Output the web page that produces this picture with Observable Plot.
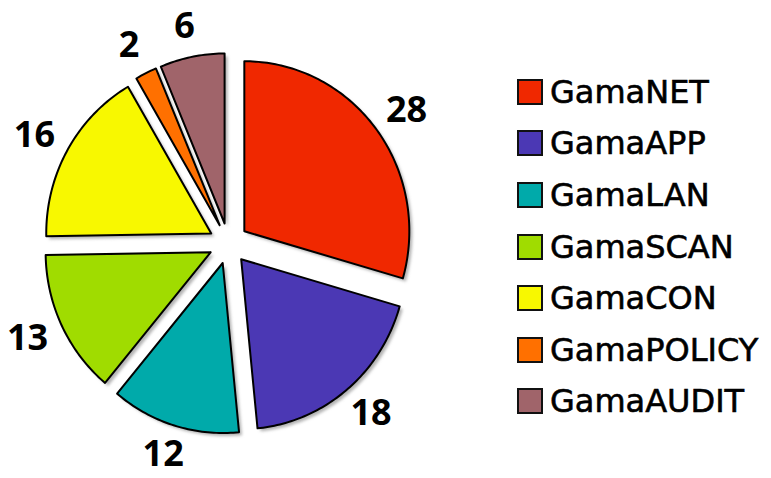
<!DOCTYPE html>
<html><head><meta charset="utf-8">
<script src="https://cdn.jsdelivr.net/npm/d3@7"></script>
<script src="https://cdn.jsdelivr.net/npm/@observablehq/plot@0.6"></script>
<style>
body{margin:0;background:#fff;}
#wrap{position:relative;width:771px;height:478px;overflow:hidden;}
#chart{position:absolute;left:0;top:0;}
#legend{position:absolute;left:517px;top:66px;font-family:"DejaVu Sans";font-size:32px;color:#000;-webkit-text-stroke:0.6px #000;}
.row{display:flex;align-items:center;height:51.6px;}
.sw{width:22px;height:22px;border:2px solid #111;margin-right:7px;box-sizing:content-box;-webkit-text-stroke:0;}
</style></head><body><div id="wrap"><div id="chart"></div><div id="legend"></div></div>
<script>
const categories = ["GamaNET","GamaAPP","GamaLAN","GamaSCAN","GamaCON","GamaPOLICY","GamaAUDIT"];
const values = [28,18,12,13,16,2,6];
const colors = ["#f02800","#4b38b4","#00aaaa","#a0dc00","#f8f800","#ff7000","#a0646a"];

const total = d3.sum(values);
const explode = 0.12;
let acc = 0;
const slices = categories.map((name,i)=>{
  const a0 = acc/total*2*Math.PI; acc += values[i];
  const a1 = acc/total*2*Math.PI;
  return {name, value: values[i], a0, a1, mid:(a0+a1)/2};
});
const pts = [];
for (const s of slices) {
  const ox = explode*Math.sin(s.mid), oy = explode*Math.cos(s.mid);
  pts.push({name:s.name, x:ox, y:oy});
  const n = Math.max(2, Math.ceil((s.a1-s.a0)/(Math.PI/180)));
  for (let k=0;k<=n;k++){const a=s.a0+(s.a1-s.a0)*k/n; pts.push({name:s.name,x:ox+Math.sin(a),y:oy+Math.cos(a)});}
  pts.push({name:s.name, x:ox, y:oy});
}
const labels = slices.map(s=>({x:1.35*Math.sin(s.mid), y:1.30*Math.cos(s.mid), text:String(s.value)}));

const plot = Plot.plot({
  width:771, height:478, margin:0,
  x:{domain:[-1,1], range:[63,393], axis:null},
  y:{domain:[-1,1], range:[413,73], axis:null},
  color:{domain:categories, range:colors},
  marks:[
    Plot.line(pts,{x:"x",y:"y",z:"name",fill:"#9a9a9a",fillOpacity:0.75,stroke:"none",dx:3,dy:3}),
    Plot.line(pts,{x:"x",y:"y",z:"name",fill:"name",stroke:"#000",strokeWidth:2,strokeLinejoin:"round"}),
    Plot.text(labels,{x:"x",y:"y",text:"text",fontSize:36,fontWeight:"bold",fontFamily:"Open Sans",fill:"#000"})
  ]
});
const ns="http://www.w3.org/2000/svg";
const defs=document.createElementNS(ns,"defs");
defs.innerHTML='<filter id="blur" x="-10%" y="-10%" width="120%" height="120%"><feGaussianBlur stdDeviation="1.5"/></filter>';
plot.insertBefore(defs, plot.firstChild);
const g = plot.querySelector('g[aria-label="line"]');
if (g) g.setAttribute("filter","url(#blur)");
document.getElementById("chart").appendChild(plot);

const legend=document.getElementById("legend");
categories.forEach((c,i)=>{
  const row=document.createElement("div");row.className="row";
  const sw=document.createElement("div");sw.className="sw";sw.style.background=colors[i];
  const t=document.createElement("span");t.textContent=c;
  row.appendChild(sw);row.appendChild(t);legend.appendChild(row);
});
</script></body></html>
